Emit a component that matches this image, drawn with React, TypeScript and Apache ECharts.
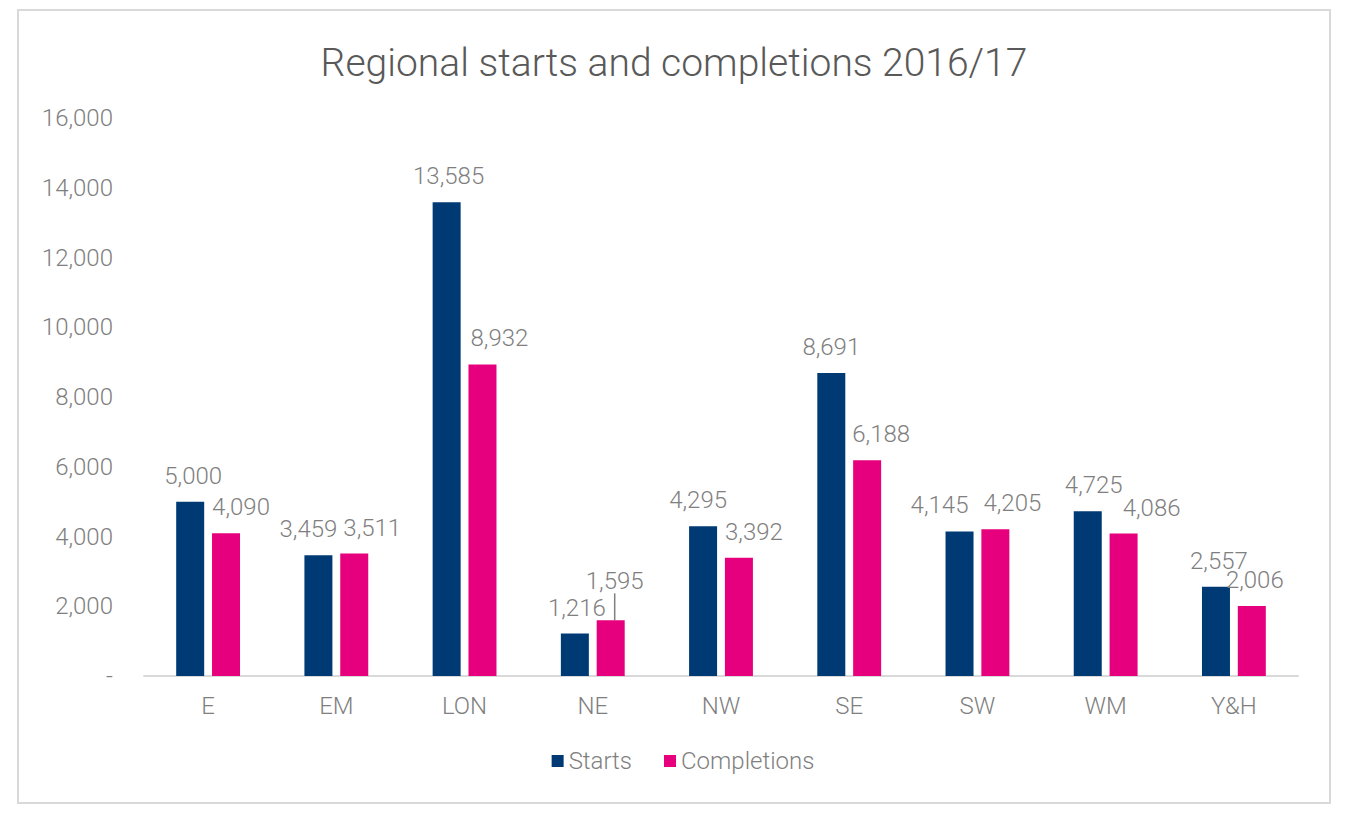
import React, { useEffect, useRef } from "react";
import * as echarts from "echarts";

const categories = ["E", "EM", "LON", "NE", "NW", "SE", "SW", "WM", "Y&H"];
const starts = [5000, 3459, 13585, 1216, 4295, 8691, 4145, 4725, 2557];
const completions = [4090, 3511, 8932, 1595, 3392, 6188, 4205, 4086, 2006];
const yTicks = { min: 0, max: 16000, interval: 2000 };

// label nudges (style only), as the reference's labels are placed
const startsLabelDx = [3, -10, 2, 2, -5, 0, -20, 6, 3];
const completionsLabelDx = [15, 18, 17, 4, 15, 14, 17, 28, 3];
const completionsLabelDy = [0, 0, 0, -13, 0, 0, 0, 0, 0];
const leaderIndex = 3;

const FONT = "Roboto";
const TEXT = "#7f7f7f";

export default function App() {
  const ref = useRef<HTMLDivElement>(null);
  useEffect(() => {
    const chart = echarts.init(ref.current!, null, { renderer: "svg" });
    const fmt = (v: number) => (v === 0 ? "-" : v.toLocaleString("en-US"));
    const labelStyle = {
      show: true,
      position: "top",
      distance: 14,
      fontFamily: FONT,
      fontSize: 24,
      fontWeight: 300,
      color: TEXT,
      formatter: (p: any) => fmt(p.value),
    };
    chart.setOption({
      animation: false,
      backgroundColor: "#ffffff",
      textStyle: { fontFamily: FONT },
      graphic: [
        {
          type: "rect",
          shape: { x: 18, y: 10, width: 1312, height: 793 },
          style: { fill: "none", stroke: "#d9d9d9", lineWidth: 2 },
          silent: true,
        },
        {
          type: "text",
          x: 674,
          y: 63,
          silent: true,
          style: {
            text: "Regional starts and completions 2016/17",
            fontFamily: FONT,
            fontSize: 39,
            fontWeight: 300,
            fill: "#595959",
            align: "center",
            verticalAlign: "middle",
          },
        },
      ],
      legend: {
        bottom: 60,
        left: "center",
        itemWidth: 12,
        itemHeight: 12,
        itemGap: 32,
        icon: "rect",
        textStyle: { fontFamily: FONT, fontSize: 24, color: TEXT, fontWeight: 300 },
        data: ["Starts", "Completions"],
      },
      grid: { left: 144, right: 68, top: 118, bottom: 162, containLabel: false },
      xAxis: {
        type: "category",
        data: categories,
        axisLine: { lineStyle: { color: "#d9d9d9", width: 2 } },
        axisTick: { show: false },
        axisLabel: { fontFamily: FONT, fontSize: 24, color: TEXT, margin: 18, fontWeight: 300 },
      },
      yAxis: {
        type: "value",
        min: yTicks.min,
        max: yTicks.max,
        interval: yTicks.interval,
        splitLine: { show: false },
        axisLine: { show: false },
        axisTick: { show: false },
        axisLabel: {
          fontFamily: FONT,
          fontSize: 24,
          color: TEXT,
          margin: 31,
          fontWeight: 300,
          formatter: fmt,
        },
      },
      series: [
        {
          name: "Starts",
          type: "bar",
          data: starts,
          barWidth: 28,
          barGap: "28%",
          itemStyle: { color: "#003a74" },
          label: labelStyle,
          labelLayout: (p: any) => ({ dx: startsLabelDx[p.dataIndex] || 0 }),
        },
        {
          name: "Completions",
          type: "bar",
          data: completions.map((v, i) => ({
            value: v,
            labelLine: { show: i === leaderIndex },
          })),
          barWidth: 28,
          itemStyle: { color: "#e6007e" },
          label: labelStyle,
          labelLine: {
            show: false,
            length2: 0,
            lineStyle: { color: "#7f7f7f", width: 1.5 },
          },
          labelLayout: (p: any) => ({
            dx: completionsLabelDx[p.dataIndex] || 0,
            dy: completionsLabelDy[p.dataIndex] || 0,
          }),
        },
      ],
    });
    return () => chart.dispose();
  }, []);
  return (
    <div
      ref={ref}
      style={{ position: "absolute", left: 0, top: 0, width: 1366, height: 838 }}
    />
  );
}
